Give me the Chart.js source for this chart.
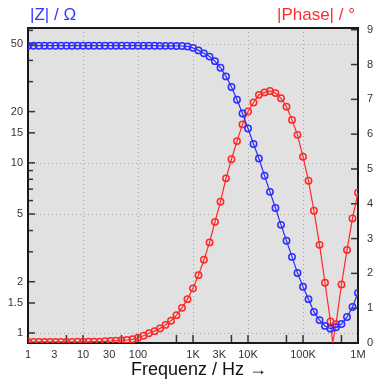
<!DOCTYPE html>
<html>
<head>
<meta charset="utf-8">
<script src="https://cdn.jsdelivr.net/npm/chart.js@4.4.1/dist/chart.umd.min.js"></script>
<style>
  html, body { margin: 0; padding: 0; background: #fff; overflow: hidden; width: 373px; height: 381px; }
  #wrap { position: relative; width: 390px; height: 381px; }
  canvas { position: absolute; left: 0; top: 0; }
  .axTitle { position: absolute; font-family: "Liberation Sans", Arial, sans-serif; white-space: nowrap; }
  #zTitle { left: 30px; top: 5px; font-size: 17px; color: #3535ff; }
  #phTitle { left: 277px; top: 5px; font-size: 17px; color: #ff2d2d; }
  #fTitle { left: 131px; top: 359px; font-size: 18px; color: #111; }
</style>
</head>
<body>
<div id="wrap">
  <canvas id="myChart" width="390" height="381"></canvas>
  <div class="axTitle" id="zTitle">|Z| / Ω</div>
  <div class="axTitle" id="phTitle">|Phase| / °</div>
  <div class="axTitle" id="fTitle">Frequenz / Hz →</div>
</div>
<script>
// measurement frequencies (Hz), 10 per decade
const freq = [1, 1.26, 1.58, 2, 2.51, 3.16, 3.98, 5.01, 6.31, 7.94,
  10, 12.6, 15.8, 20, 25.1, 31.6, 39.8, 50.1, 63.1, 79.4,
  100, 126, 158, 200, 251, 316, 398, 501, 631, 794,
  1000, 1260, 1580, 2000, 2510, 3160, 3980, 5010, 6310, 7940,
  10000, 12600, 15800, 20000, 25100, 31600, 39800, 50100, 63100, 79400,
  100000, 126000, 158000, 200000, 251000, 316000, 398000, 501000, 631000, 794000,
  1000000];

// |Z| in Ohm
const zAbs = [48.8, 48.8, 48.8, 48.8, 48.8, 48.8, 48.8, 48.8, 48.8, 48.8,
  48.8, 48.8, 48.8, 48.8, 48.8, 48.8, 48.8, 48.8, 48.8, 48.8,
  48.8, 48.8, 48.8, 48.8, 48.7, 48.7, 48.7, 48.6, 48.6, 48.3,
  47.4, 45.8, 44.0, 42.1, 39.6, 36.2, 32.2, 27.9, 23.5, 19.5,
  15.9, 12.9, 10.6, 8.4, 6.75, 5.43, 4.32, 3.48, 2.80, 2.25,
  1.87, 1.58, 1.33, 1.19, 1.10, 1.06, 1.08, 1.13, 1.24, 1.42,
  1.72];

// |Phase| in degree
const phase = [0.3, 0.3, 0.3, 0.3, 0.3, 0.3, 0.3, 0.3, 0.3, 0.35,
  0.35, 0.35, 0.37, 0.4, 0.49, 0.57, 0.66, 0.78, 0.86, 1.06,
  1.52, 2.1, 2.8, 3.4, 4.2, 5.2, 6.4, 8.0, 10.1, 12.6,
  15.7, 19.5, 23.9, 28.9, 34.8, 40.6, 47.3, 52.8, 58.0, 62.8,
  66.5, 69.1, 71.3, 72.0, 72.4, 71.8, 70.3, 67.9, 64.1, 59.8,
  53.5, 46.6, 38.0, 28.2, 17.3, 6.2, 5.4, 16.8, 26.7, 35.8,
  43.2];

// sign change of the phase (line touches 0 here, no marker)
const phaseZeroFreq = 347000;

const freqTicks = [1, 3, 10, 30, 100, 1000, 3000, 10000, 100000, 1000000];
const freqTickLabels = ['1', '3', '10', '30', '100', '1K', '3K', '10K', '100K', '1M'];
const freqTickMarks = [5, 10, 50, 100, 500, 1000, 5000, 10000, 50000, 100000, 500000];
const freqGrid = [10, 100, 1000, 10000, 100000];

const zTicks = [1, 1.5, 2, 5, 10, 15, 20, 50];
const zMinorTicks = [3, 4, 6, 7, 8, 9, 30, 40, 60];
const zGrid = [1, 5, 10, 50];

const phaseTicks = [0, 10, 20, 30, 40, 50, 60, 70, 80, 90];

const blue = 'rgb(45,45,255)';
const red = 'rgb(255,40,40)';
const tickFont = { family: "'Liberation Sans', Arial, sans-serif", size: 11 };

const zPoints = freq.map((f, i) => ({ x: f, y: zAbs[i] }));
const phasePoints = freq.map((f, i) => ({ x: f, y: phase[i] }));
const zeroAt = freq.findIndex(f => f > phaseZeroFreq);
phasePoints.splice(zeroAt, 0, { x: phaseZeroFreq, y: 0 });

// grey plot area, dotted grid, inward ticks and frame
const frame = {
  id: 'frame',
  beforeDraw(chart) {
    const { ctx, chartArea: a } = chart;
    ctx.save();
    ctx.fillStyle = '#e1e1e1';
    ctx.fillRect(a.left, a.top, a.right - a.left, a.bottom - a.top);
    ctx.restore();
  },
  beforeDatasetsDraw(chart) {
    const { ctx, chartArea: a, scales } = chart;
    const seg = (x1, y1, x2, y2) => { ctx.beginPath(); ctx.moveTo(x1, y1); ctx.lineTo(x2, y2); ctx.stroke(); };
    ctx.save();
    ctx.strokeStyle = '#a5a5a5';
    ctx.lineWidth = 1;
    ctx.setLineDash([1, 3]);
    freqGrid.forEach(v => { const x = Math.round(scales.x.getPixelForValue(v)) + 0.5; seg(x, a.top, x, a.bottom); });
    zGrid.forEach(v => { const y = Math.round(scales.y.getPixelForValue(v)) + 0.5; seg(a.left, y, a.right, y); });
    ctx.setLineDash([]);

    ctx.strokeStyle = '#333';
    ctx.lineWidth = 1.5;
    zTicks.forEach(v => { const y = scales.y.getPixelForValue(v); seg(a.left, y, a.left + 7, y); });
    zMinorTicks.forEach(v => { const y = scales.y.getPixelForValue(v); seg(a.left, y, a.left + 5, y); });
    phaseTicks.forEach(v => { const y = scales.y2.getPixelForValue(v); seg(a.right - 7, y, a.right, y); });
    freqTickMarks.forEach(v => { const x = scales.x.getPixelForValue(v); seg(x, a.bottom - 8, x, a.bottom); });

    ctx.strokeStyle = '#1a1a1a';
    ctx.lineWidth = 2;
    ctx.strokeRect(a.left, a.top, a.right - a.left, a.bottom - a.top);
    ctx.restore();
  }
};

const data = {
  datasets: [{
    label: '|Z|',
    data: zPoints,
    yAxisID: 'y',
    borderColor: blue,
    borderWidth: 1.2,
    pointRadius: 3.2,
    pointBorderWidth: 1.5,
    pointBorderColor: blue,
    pointBackgroundColor: 'rgba(0,0,0,0)',
    order: 0
  }, {
    label: '|Phase|',
    data: phasePoints,
    yAxisID: 'y2',
    borderColor: red,
    borderWidth: 1.2,
    pointRadius: phasePoints.map(p => p.x === phaseZeroFreq ? 0 : 3.2),
    pointBorderWidth: 1.5,
    pointBorderColor: red,
    pointBackgroundColor: 'rgba(0,0,0,0)',
    order: 1
  }]
};

const config = {
  type: 'line',
  data: data,
  options: {
    responsive: false,
    animation: false,
    layout: { padding: { top: 28, left: 0, right: 0, bottom: 0 } },
    plugins: { legend: { display: false }, tooltip: { enabled: false } },
    scales: {
      x: {
        type: 'logarithmic',
        min: 1,
        max: 1000000,
        grid: { display: false, drawTicks: false },
        border: { display: false },
        afterBuildTicks: s => { s.ticks = freqTicks.map(v => ({ value: v })); },
        afterFit: s => { s.height = 38; },
        ticks: {
          autoSkip: false, maxRotation: 0, padding: 5,
          color: '#333', font: tickFont,
          callback: v => freqTickLabels[freqTicks.indexOf(v)]
        }
      },
      y: {
        type: 'logarithmic',
        position: 'left',
        min: 0.873,
        max: 62,
        grid: { display: false, drawTicks: false },
        border: { display: false },
        afterBuildTicks: s => { s.ticks = zTicks.map(v => ({ value: v })); },
        afterFit: s => { s.width = 28; },
        ticks: {
          autoSkip: false, padding: 5,
          color: '#333', font: tickFont,
          callback: v => String(v)
        }
      },
      y2: {
        type: 'linear',
        position: 'right',
        min: 0,
        max: 90.5,
        grid: { display: false, drawTicks: false },
        border: { display: false },
        afterBuildTicks: s => { s.ticks = phaseTicks.map(v => ({ value: v })); },
        afterFit: s => { s.width = 32; },
        ticks: {
          autoSkip: false, padding: 9,
          color: '#333', font: tickFont,
          callback: v => String(v)
        }
      }
    }
  },
  plugins: [frame]
};

const myChart = new Chart(document.getElementById('myChart'), config);
</script>
</body>
</html>
